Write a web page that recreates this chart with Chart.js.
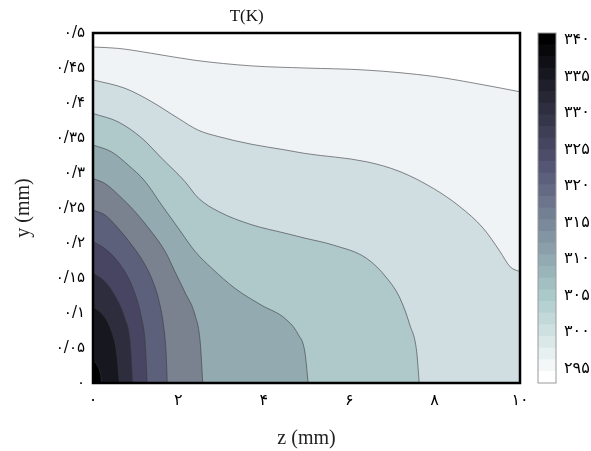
<!DOCTYPE html>
<html><head><meta charset="utf-8">
<script src="https://cdn.jsdelivr.net/npm/chart.js@4.4.1/dist/chart.umd.min.js"></script>
<style>
html,body{margin:0;padding:0;background:#fff;}
#wrap{position:relative;width:591px;height:451px;overflow:hidden;}
#main{position:absolute;left:0;top:0;width:591px;height:451px;}
#cbar{position:absolute;left:530px;top:0;width:61px;height:451px;}
</style></head><body>
<div id="wrap"><canvas id="main" width="591" height="451"></canvas><canvas id="cbar" width="61" height="451"></canvas></div>
<script>
// ---- data: contour lines as [z (mm), y (mm)] ----
const contour1 = [[0,0.480],[0.6,0.478],[1.37,0.471],[2.39,0.461],[3.72,0.453],[4.96,0.450],[6.41,0.447],[7.97,0.438],[9.14,0.426],[10,0.416]];
const contour2 = [[0,0.433],[0.75,0.421],[1.37,0.402],[2.0,0.378],[2.47,0.361],[2.94,0.352],[3.72,0.341],[4.50,0.333],[4.96,0.328],[6.41,0.316],[7.19,0.302],[7.97,0.278],[8.59,0.252],[9.14,0.221],[9.53,0.188],[9.77,0.166],[10,0.159]];
const contour3 = [[0,0.385],[0.59,0.373],[1.14,0.350],[1.61,0.321],[2.15,0.288],[2.47,0.264],[2.94,0.245],[3.72,0.226],[4.50,0.214],[4.96,0.207],[5.63,0.197],[6.41,0.178],[6.88,0.150],[7.19,0.121],[7.42,0.083],[7.58,0.045],[7.64,0]];
const contour4 = [[0,0.340],[0.44,0.330],[0.83,0.311],[1.22,0.288],[1.61,0.254],[2.00,0.221],[2.39,0.188],[2.78,0.164],[3.33,0.135],[3.95,0.111],[4.50,0.092],[4.81,0.069],[4.96,0.045],[5.04,0]];
const contour5 = [[0,0.292],[0.28,0.285],[0.59,0.269],[0.98,0.245],[1.37,0.216],[1.69,0.188],[1.92,0.159],[2.15,0.130],[2.39,0.097],[2.51,0.059],[2.57,0]];
const contour6 = [[0,0.247],[0.28,0.240],[0.59,0.221],[0.91,0.197],[1.18,0.173],[1.37,0.150],[1.53,0.121],[1.65,0.083],[1.71,0.045],[1.74,0]];
const contour7 = [[0,0.202],[0.28,0.192],[0.59,0.173],[0.83,0.150],[1.02,0.121],[1.14,0.092],[1.22,0.059],[1.27,0]];
const contour8 = [[0,0.157],[0.28,0.145],[0.55,0.121],[0.75,0.092],[0.87,0.059],[0.93,0]];
const contour9 = [[0,0.109],[0.24,0.097],[0.44,0.073],[0.55,0.045],[0.62,0]];
const contour10 = [[0,0.033],[0.12,0.023],[0.18,0.011],[0.20,0]];

// tick values / labels
const xTickValues = [0,2,4,6,8,10];
const xTickLabels = ['۰','۲','۴','۶','۸','۱۰'];
const yTickValues = [0,0.05,0.1,0.15,0.2,0.25,0.3,0.35,0.4,0.45,0.5];
const yTickLabels = ['۰','۰/۰۵','۰/۱','۰/۱۵','۰/۲','۰/۲۵','۰/۳','۰/۳۵','۰/۴','۰/۴۵','۰/۵'];
const cbTickValues = [295,300,305,310,315,320,325,330,335,340];
const cbTickLabels = ['۲۹۵','۳۰۰','۳۰۵','۳۱۰','۳۱۵','۳۲۰','۳۲۵','۳۳۰','۳۳۵','۳۴۰'];
const cbEdges = [293,294.6,296.2,297.8,299.4,301,302.6,304.2,305.8,307.4,309,310.6,312.2,313.8,315.4,317,318.6,320.2,321.8,323.4,325,326.6,328.2,329.8,331.4,333,334.6,336.2,337.8,339.4,341];

// ---- styles ----
const contours = [contour1,contour2,contour3,contour4,contour5,contour6,contour7,contour8,contour9,contour10];
const bandColors = ['#eff3f5','#d0dee1','#afc8ca','#93abb0','#7a8290','#5d607b','#474562','#2d2d3e','#17171f','#000000'];
const serif = "'Liberation Serif','Times New Roman',serif";
const persian = "'DejaVu Sans','Noto Sans',sans-serif";

function bone(t){
  const c = v => Math.max(0, Math.min(1, v));
  const r = (7*t + c((t-0.75)/0.25))/8;
  const g = (7*t + c((t-0.375)/0.375))/8;
  const b = (7*t + c(t/0.375))/8;
  return 'rgb(' + Math.round(r*255) + ',' + Math.round(g*255) + ',' + Math.round(b*255) + ')';
}

const framePlugin = {
  id: 'frame',
  afterDraw(chart, args, opts) {
    const {ctx, chartArea: a} = chart;
    ctx.save();
    ctx.strokeStyle = opts.color; ctx.lineWidth = opts.width;
    ctx.strokeRect(a.left, a.top, a.right - a.left, a.bottom - a.top);
    if (opts.title) {
      ctx.fillStyle = '#111';
      ctx.font = '17px ' + serif;
      ctx.textAlign = 'center'; ctx.textBaseline = 'middle';
      ctx.fillText(opts.title, a.left + (a.right - a.left) * 0.36, 17);
    }
    ctx.restore();
  }
};

const datasets = contours.map((pts, i) => ({
  data: pts.map(p => ({x: p[0], y: p[1]})),
  showLine: true,
  fill: 'origin',
  backgroundColor: bandColors[i],
  borderColor: 'rgba(55,55,60,0.85)',
  borderWidth: 0.7,
  pointRadius: 0,
  cubicInterpolationMode: 'monotone',
  order: contours.length - i
}));

new Chart(document.getElementById('main'), {
  type: 'scatter',
  data: { datasets },
  options: {
    responsive: false, animation: false, devicePixelRatio: 1,
    layout: { padding: { left: 0, top: 33, right: 71, bottom: 0 } },
    plugins: {
      legend: { display: false }, tooltip: { enabled: false },
      frame: { color: '#000', width: 2.5, title: 'T(K)' }
    },
    scales: {
      x: {
        type: 'linear', min: 0, max: 10,
        afterBuildTicks: s => { s.ticks = xTickValues.map(v => ({value: v})); },
        afterFit: s => { s.height = 68; },
        grid: { display: false, drawTicks: false },
        border: { display: false },
        ticks: { padding: 8, color: '#000', font: { family: persian, size: 16 },
                 callback: (v, i) => xTickLabels[i] },
        title: { display: true, text: 'z (mm)', color: '#222', font: { family: serif, size: 20 }, padding: { top: 0, bottom: 0 } }
      },
      y: {
        type: 'linear', min: 0, max: 0.5,
        afterBuildTicks: s => { s.ticks = yTickValues.map(v => ({value: v})); },
        afterFit: s => { s.width = 93; },
        grid: { display: false, drawTicks: false },
        border: { display: false },
        ticks: { padding: 8, color: '#000', font: { family: persian, size: 15 },
                 callback: (v, i) => yTickLabels[i] },
        title: { display: true, text: 'y (mm)', color: '#222', font: { family: serif, size: 20 }, padding: { top: 12, bottom: 0 } }
      }
    }
  },
  plugins: [framePlugin]
});

const nSeg = cbEdges.length - 1;
const cbDatasets = [];
for (let i = 0; i < nSeg; i++) {
  cbDatasets.push({
    data: [[cbEdges[i], cbEdges[i+1]]],
    backgroundColor: bone(1 - i/(nSeg-1)),
    borderWidth: 0, grouped: false,
    barPercentage: 1, categoryPercentage: 1
  });
}

new Chart(document.getElementById('cbar'), {
  type: 'bar',
  data: { labels: ['T'], datasets: cbDatasets },
  options: {
    responsive: false, animation: false, devicePixelRatio: 1,
    layout: { padding: { left: 8, top: 33, right: 0, bottom: 68 } },
    plugins: { legend: { display: false }, tooltip: { enabled: false },
               frame: { color: '#9a9a9a', width: 1 } },
    scales: {
      x: { display: false },
      y: {
        position: 'right', min: 293, max: 341,
        afterBuildTicks: s => { s.ticks = cbTickValues.map(v => ({value: v})); },
        afterFit: s => { s.width = 35; },
        grid: { display: false, drawTicks: false },
        border: { display: false },
        ticks: { padding: 8, color: '#000', font: { family: persian, size: 16 },
                 callback: (v, i) => cbTickLabels[i] }
      }
    }
  },
  plugins: [framePlugin]
});
</script>
</body></html>
